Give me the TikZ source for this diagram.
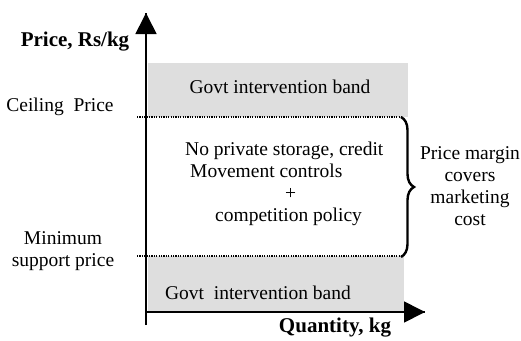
\documentclass[tikz,border=0pt]{standalone}
\usepackage{fontspec}
\setmainfont{Liberation Serif}
\usepackage{tikz}
\usetikzlibrary{arrows}
\usetikzlibrary{arrows.meta}
\usetikzlibrary{decorations.markings}
\usetikzlibrary{decorations.pathreplacing}
\usetikzlibrary{positioning}
\tikzset{->/.style = {decoration={markings,
                                  mark=at position 1 with {\arrow{Triangle[length=21pt, width=21pt]}}},
                      postaction={decorate}}}
\tikzset{band/.style = {fill=gray!26, draw=none},
         level/.style = {line width=1.3pt, dash pattern=on 1.2pt off 1.2pt},
         txt/.style = {font=\fontsize{19.5}{22}\selectfont, inner sep=0pt},
         axislabel/.style = {font=\fontsize{21}{24}\selectfont\bfseries, inner sep=0pt}}

\begin{document}
\begin{tikzpicture}[x=1pt, y=-1pt]
    \useasboundingbox (0, 0) rectangle (521, 340);
    % shaded intervention bands
    \fill [band] (148, 63) rectangle (408, 117);
    \fill [band] (148, 256) rectangle (404, 312);
    % axes
    \coordinate (O) at (146, 312);
    \coordinate (ybot) at (146, 325);
    \coordinate (ytop) at (146, 13);
    \coordinate (xend) at (425, 312);
    \draw [->, line width=1.7pt] (ybot) -- (ytop);
    \draw [->, line width=1.7pt] (O) -- (xend);
    % price levels
    \coordinate (ceilL) at (137, 117);
    \coordinate (ceilR) at (403, 117);
    \coordinate (minL) at (137, 256);
    \coordinate (minR) at (403, 256);
    \draw [level] (ceilL) -- (ceilR);
    \draw [level] (minL) -- (minR);
    \coordinate (braceT) at (401, 117);
    \coordinate (braceB) at (401, 257);
    \draw [decorate, decoration={brace, amplitude=13pt}, line width=2.4pt] (braceT) -- (braceB);
    % labels
    \node [axislabel] (price) at (75, 42) {Price, Rs/kg};
    \node [axislabel] (qty) at (335, 328) {Quantity, kg};
    \node [txt] (ceiling) at (60, 107) {Ceiling\ \ Price};
    \node [txt, align=center] (minimum) at (63, 251) {Minimum\\support price};
    \node [txt] (upperband) at (280, 87) {Govt intervention band};
    \node [txt] (lowerband) at (258, 293) {Govt\ \ intervention band};
    \node [txt, align=left, anchor=west] (policy) at (185, 184)
        {No private storage, credit\\
         \hspace*{5pt}Movement controls\\
         \hspace*{100pt}+\\
         \hspace*{30pt}competition policy};
    \node [txt, align=center] (margin) at (470, 186) {Price margin\\covers\\marketing\\cost};
  \end{tikzpicture}
\end{document}
